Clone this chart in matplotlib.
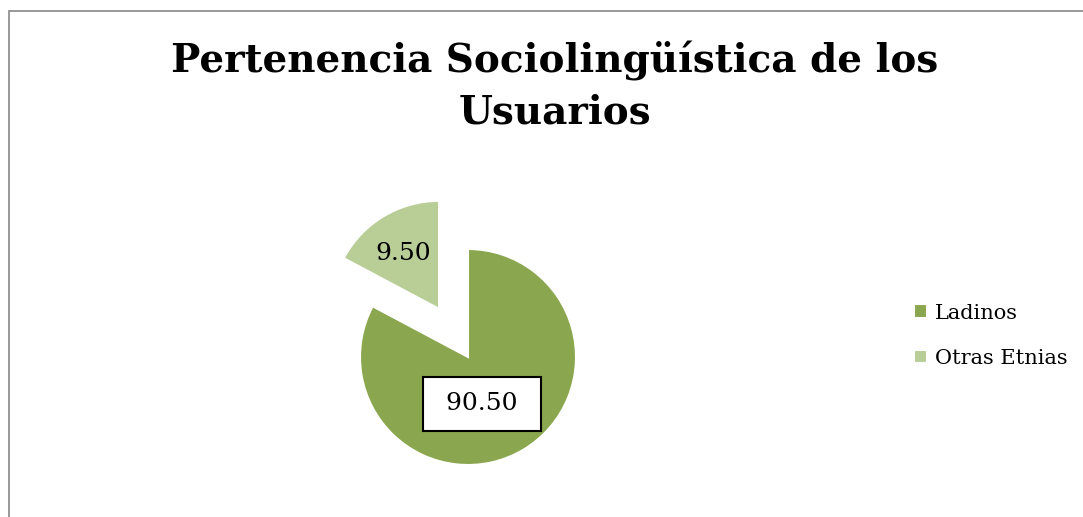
import matplotlib.pyplot as plt
from matplotlib.patches import Rectangle

# datos
categorias = ["Ladinos", "Otras Etnias"]
etiquetas = ["90.50", "9.50"]
# tamaño de los sectores tal como se ven en el gráfico (grados medidos)
sectores = [298, 62]
colores = ["#8aa64e", "#b9cd96"]

W, H = 1083, 517
fig = plt.figure(figsize=(W / 100, H / 100), dpi=100)
plt.rcParams['font.family'] = ['DejaVu Serif']

# marco del gráfico
fig.patches.append(Rectangle((8.5 / W, -0.2), 2.0, (H - 10.5) / H + 0.2,
                             transform=fig.transFigure, fill=False,
                             edgecolor="#888888", linewidth=1.2))

fig.text(555 / W, 1 - 41 / H, "Pertenencia Sociolingüística de los\nUsuarios",
         ha="center", va="top", fontsize=28, fontweight="bold",
         linespacing=1.42)

# ejes en pixeles: centro (468, 357), radio 108
r = 108.0
cx, cy = 468, 357
x0, x1, y0, y1 = 300, 640, 180, 500
ax = fig.add_axes([x0 / W, 1 - y1 / H, (x1 - x0) / W, (y1 - y0) / H])
wedges, _ = ax.pie(sectores, colors=colores, startangle=90, counterclock=False,
                   explode=[0, 0.52],
                   wedgeprops=dict(edgecolor="white", linewidth=1.5))
ax.set_aspect("auto")
ax.set_xlim(-(cx - x0) / r, (x1 - cx) / r)
ax.set_ylim(-(y1 - cy) / r, (cy - y0) / r)
ax.axis("off")

ax.text(0.13, -0.435, " " + etiquetas[0] + " ", ha="center", va="center",
        fontsize=18,
        bbox=dict(boxstyle="square,pad=0.62", facecolor="white",
                  edgecolor="black", linewidth=1.5))
ax.text(-0.60, 0.954, etiquetas[1], ha="center", va="center", fontsize=18)

fig.legend(wedges, categorias, loc="upper left",
           bbox_to_anchor=(895 / W, 1 - 285 / H), frameon=False,
           fontsize=15, handlelength=0.65, handleheight=0.65,
           handletextpad=0.35, labelspacing=1.25)

fig.savefig("out.png", dpi=100, facecolor="white")
